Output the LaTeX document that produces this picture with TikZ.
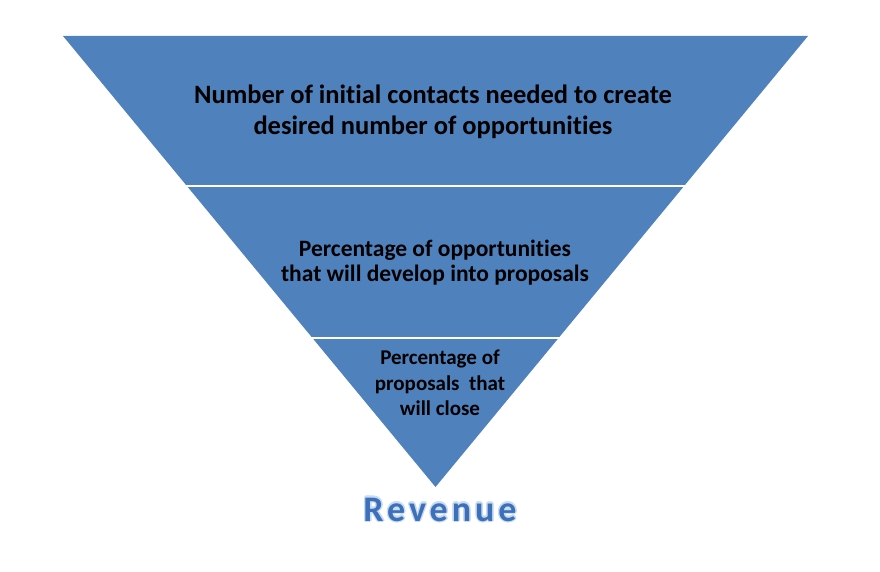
\documentclass[tikz,border=0pt]{standalone}
\usepackage{fontspec}
\setmainfont{Carlito}[Ligatures=NoCommon]
\usepackage[copies]{contour}
\definecolor{funnelblue}{RGB}{79,129,189}
\definecolor{revblue}{RGB}{62,112,186}
\definecolor{revglow}{RGB}{200,220,242}

\begin{document}
\begin{tikzpicture}[x=1pt,y=-1pt,
  band/.style={fill=funnelblue},
  gap/.style={draw=white,line width=2.5pt},
  label/.style={align=center,font=\bfseries,text=black}]
  \useasboundingbox (0,0) rectangle (880,572);

  % Draw the funnel
  \fill[band] (63,36) -- (808,36) -- (435.5,487) -- cycle;

  % white gaps between the bands
  \draw[gap] (150,186) -- (720,186);
  \draw[gap] (280,338) -- (590,338);

  % Texts in the bands
  \node[label,font=\fontsize{26.5}{31}\bfseries] (contacts) at (433,112)
    {Number of initial contacts needed to create\\desired number of opportunities};

  \node[label,font=\fontsize{23.5}{25}\bfseries] (opport) at (435,263)
    {Percentage of opportunities\\that will develop into proposals};

  \node[label,font=\fontsize{21}{25.5}\bfseries] (proposals) at (440,383)
    {Percentage of\\proposals\ \ that\\will close};

  % Revenue below the tip
  \contourlength{1.3pt}
  \node[anchor=base,text=revblue,font=\addfontfeature{LetterSpace=11}\fontsize{36}{40}\bfseries] (revenue) at (440,521)
    {\contour{revglow}{Revenue}};

\end{tikzpicture}
\end{document}
